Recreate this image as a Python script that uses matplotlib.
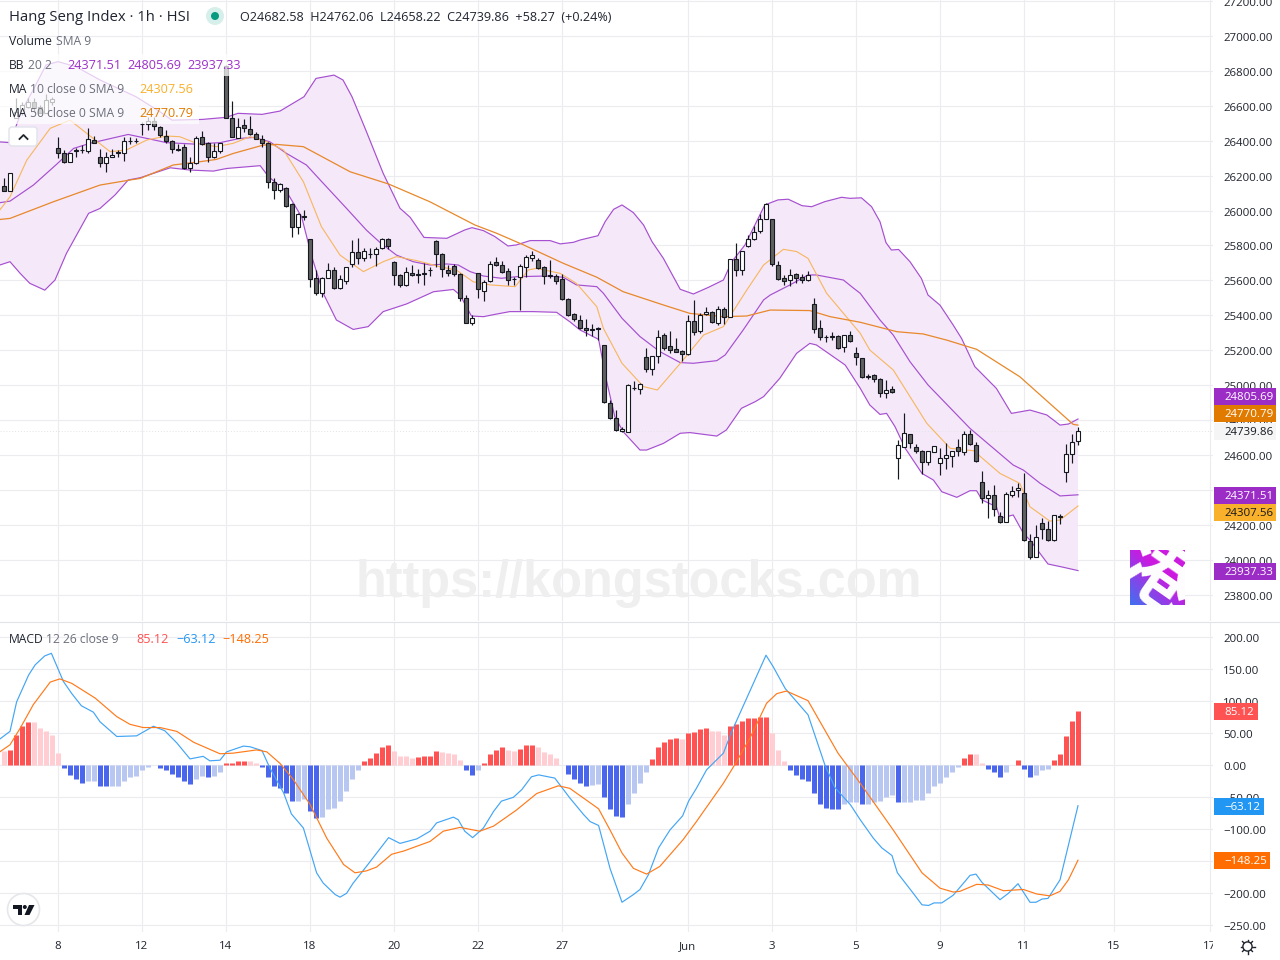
import numpy as np
import matplotlib
matplotlib.use('Agg')
import matplotlib.pyplot as plt
from matplotlib.patches import Rectangle, Circle, Polygon, FancyBboxPatch
from matplotlib.transforms import ScaledTranslation

plt.rcParams['font.family'] = ['Open Sans', 'DejaVu Sans']

# candles, one per hour, oldest first
opens = [26140, 26113, 26528, 26557, 26595, 26623, 26595, 26560, 26623, 26356,
         26327, 26280, 26343, 26347, 26343, 26402, 26308, 26274, 26304, 26335,
         26327, 26401, 26397, 26495, 26494, 26515, 26480, 26429, 26400, 26352,
         26366, 26241, 26270, 26419, 26385, 26308, 26343, 26830, 26528, 26413,
         26488, 26465, 26436, 26411, 26389, 26165, 26117, 26131, 26035, 25903,
         25970, 25835, 25611, 25525, 25611, 25657, 25554, 25598, 25691, 25760,
         25730, 25750, 25749, 25783, 25837, 25707, 25628, 25571, 25640, 25634,
         25634, 25658, 25828, 25749, 25658, 25681, 25635, 25497, 25358, 25640,
         25541, 25598, 25704, 25686, 25652, 25609, 25621, 25679, 25730, 25715,
         25675, 25628, 25623, 25606, 25492, 25406, 25371, 25325, 25320, 25327,
         25228, 24896, 24810, 24735, 24729, 24983, 24976, 25159, 25094, 25165,
         25285, 25222, 25205, 25197, 25176, 25365, 25312, 25409, 25421, 25354,
         25434, 25392, 25721, 25658, 25799, 25839, 25881, 25950, 25950, 25690,
         25612, 25600, 25635, 25618, 25600, 25463, 25325, 25278, 25276, 25280,
         25217, 25285, 25182, 25153, 25050, 25056, 25033, 24953, 24976, 24580,
         24647, 24718, 24643, 24624, 24557, 24619, 24552, 24582, 24592, 24643,
         24619, 24718, 24655, 24443, 24351, 24368, 24248, 24217, 24368, 24397,
         24380, 24105, 24013, 24208, 24174, 24110, 24246, 24500, 24603, 24682.58]
closes = [26113, 26213, 26566, 26604, 26623, 26585, 26560, 26633, 26639, 26327,
          26280, 26331, 26346, 26345, 26408, 26389, 26274, 26304, 26318, 26327,
          26400, 26398, 26400, 26497, 26515, 26484, 26431, 26400, 26350, 26345,
          26241, 26270, 26413, 26379, 26308, 26343, 26385, 26528, 26419, 26476,
          26471, 26436, 26411, 26385, 26165, 26115, 26154, 26028, 25903, 25978,
          25961, 25605, 25525, 25611, 25657, 25554, 25605, 25674, 25760, 25731,
          25770, 25752, 25781, 25837, 25796, 25628, 25571, 25649, 25628, 25631,
          25644, 25662, 25749, 25663, 25644, 25635, 25497, 25354, 25383, 25549,
          25593, 25692, 25686, 25650, 25600, 25606, 25681, 25732, 25744, 25669,
          25623, 25625, 25598, 25492, 25400, 25381, 25325, 25314, 25314, 25322,
          24901, 24813, 24743, 24747, 24999, 24986, 25005, 25094, 25165, 25278,
          25215, 25203, 25192, 25180, 25365, 25306, 25400, 25421, 25360, 25434,
          25392, 25721, 25658, 25767, 25839, 25879, 25950, 26036, 25692, 25606,
          25598, 25633, 25616, 25602, 25629, 25320, 25274, 25275, 25279, 25211,
          25285, 25251, 25159, 25048, 25047, 25033, 24953, 24970, 24959, 24655,
          24724, 24666, 24624, 24557, 24620, 24653, 24580, 24598, 24620, 24620,
          24718, 24661, 24563, 24351, 24368, 24292, 24217, 24376, 24395, 24408,
          24110, 24017, 24131, 24174, 24110, 24254, 24249, 24603, 24676, 24739.86]
highs = [26184, 26213, 26643, 26623, 26643, 26643, 26604, 26667, 26648, 26423,
         26346, 26331, 26356, 26375, 26471, 26427, 26352, 26337, 26350, 26347,
         26423, 26419, 26413, 26509, 26537, 26537, 26484, 26461, 26404, 26381,
         26381, 26308, 26427, 26455, 26394, 26385, 26389, 26834, 26627, 26528,
         26522, 26541, 26452, 26430, 26394, 26184, 26159, 26136, 26041, 25984,
         26003, 25839, 25659, 25621, 25697, 25678, 25630, 25678, 25831, 25840,
         25783, 25783, 25789, 25840, 25840, 25710, 25636, 25678, 25688, 25668,
         25697, 25679, 25831, 25755, 25688, 25694, 25640, 25516, 25402, 25644,
         25602, 25711, 25736, 25711, 25669, 25618, 25694, 25746, 25768, 25726,
         25682, 25717, 25637, 25637, 25497, 25415, 25402, 25377, 25350, 25335,
         25230, 24915, 24857, 24758, 25006, 25024, 25010, 25213, 25169, 25316,
         25301, 25310, 25268, 25201, 25402, 25488, 25411, 25450, 25425, 25453,
         25450, 25721, 25812, 25767, 25860, 25912, 25979, 26042, 25950, 25713,
         25631, 25663, 25640, 25637, 25654, 25497, 25373, 25287, 25302, 25285,
         25289, 25308, 25216, 25157, 25064, 25064, 25041, 25029, 24997, 24685,
         24838, 24720, 24661, 24628, 24624, 24653, 24638, 24666, 24624, 24689,
         24739, 24743, 24674, 24508, 24399, 24427, 24273, 24389, 24422, 24437,
         24498, 24147, 24198, 24236, 24221, 24254, 24260, 24661, 24720, 24762.06]
lows = [26113, 26113, 26528, 26547, 26585, 26566, 26557, 26557, 26604, 26299,
        26270, 26280, 26308, 26327, 26327, 26385, 26251, 26222, 26304, 26308,
        26285, 26381, 26385, 26432, 26461, 26461, 26423, 26389, 26331, 26343,
        26236, 26222, 26266, 26375, 26280, 26299, 26327, 26528, 26419, 26413,
        26452, 26432, 26408, 26366, 26127, 26064, 26108, 26022, 25850, 25865,
        25945, 25563, 25516, 25506, 25611, 25548, 25548, 25582, 25674, 25693,
        25712, 25726, 25684, 25779, 25777, 25573, 25560, 25567, 25624, 25586,
        25573, 25625, 25679, 25621, 25625, 25625, 25484, 25354, 25344, 25497,
        25484, 25593, 25683, 25644, 25574, 25574, 25430, 25621, 25713, 25663,
        25579, 25612, 25579, 25488, 25396, 25369, 25320, 25283, 25283, 25258,
        24896, 24806, 24739, 24731, 24729, 24972, 24949, 25075, 25058, 25129,
        25201, 25186, 25188, 25140, 25173, 25289, 25300, 25402, 25358, 25346,
        25350, 25388, 25625, 25631, 25793, 25832, 25874, 25950, 25684, 25602,
        25574, 25568, 25587, 25587, 25598, 25300, 25258, 25247, 25258, 25205,
        25192, 25247, 25115, 25039, 25033, 25020, 24930, 24926, 24953, 24464,
        24643, 24640, 24613, 24491, 24544, 24619, 24487, 24521, 24533, 24594,
        24598, 24655, 24559, 24326, 24240, 24250, 24212, 24214, 24361, 24361,
        24109, 24005, 24013, 24120, 24109, 24105, 24204, 24445, 24556, 24658.22]

# indicator lines, read at the bends (candle number, value)
bb_upper_x = [-1, 1, 3, 5, 7, 9, 12, 16, 22, 26, 28, 33, 37, 39, 43, 46, 50, 52, 55, 56.5, 58,
              60.3, 63.2, 66, 67.7, 70, 73.8, 76.8, 78, 79.9, 81.8, 84, 85.4, 87.7, 91, 92.7,
              94.9, 96, 99, 100.2, 101.6, 103, 104.9, 106.6, 108, 109.9, 112.7, 114.9, 117.4,
              119.9, 121.3, 123.5, 126.8, 129, 130.7, 133, 134.6, 136.8, 139.6, 141, 142.9,
              144.6, 146, 147, 147.9, 149.1, 151, 152.9, 154, 156, 158.2, 159.6, 161.8, 165.4,
              167.9, 171, 173.8, 176, 177.4, 179]
bb_upper = [26394, 26389, 26576, 26700, 26834, 26853, 26824, 26748, 26652, 26566, 26518, 26522,
            26534, 26557, 26551, 26570, 26652, 26757, 26776, 26748, 26652, 26461, 26213, 26013,
            25961, 25846, 25841, 25889, 25902, 25885, 25851, 25797, 25803, 25828, 25828, 25809,
            25818, 25831, 25856, 25937, 26007, 26032, 25988, 25917, 25822, 25726, 25549, 25522,
            25560, 25602, 25707, 25803, 26032, 26061, 26065, 26028, 26022, 26051, 26076, 26070,
            26073, 26022, 25936, 25816, 25774, 25777, 25707, 25611, 25516, 25458, 25344, 25267,
            25106, 24981, 24838, 24857, 24829, 24771, 24777, 24805.69]
bb_mid_x = [-0.7, 1, 4.9, 8.8, 11.6, 14.3, 20.7, 27.1, 31.6, 36, 39.3, 41.6, 44.3, 47.1, 50.4,
            52.7, 57.1, 60.4, 62.7, 65.4, 68.2, 71, 73.8, 75.7, 77.7, 79.9, 82.9, 85.4, 90.4,
            93.2, 95.4, 98.8, 99.9, 103, 106, 109.3, 112.7, 114.9, 118.8, 120.2, 123.2, 126.6,
            127.7, 131, 134, 135.4, 139.9, 141.6, 142.7, 146, 148.2, 151, 154, 161, 168.2,
            169.9, 172.7, 176, 179]
bb_mid = [26045, 26054, 26146, 26266, 26356, 26385, 26436, 26389, 26381, 26389, 26413, 26419,
          26394, 26327, 26261, 26175, 26012, 25888, 25816, 25745, 25707, 25688, 25694, 25688,
          25650, 25625, 25612, 25621, 25625, 25618, 25574, 25564, 25526, 25383, 25278, 25192,
          25129, 25125, 25140, 25173, 25316, 25488, 25516, 25574, 25631, 25631, 25602, 25555,
          25526, 25373, 25287, 25134, 25001, 24752, 24542, 24513, 24437, 24365, 24371.51]
bb_lower_x = [-0.7, 1, 2.7, 4.3, 6.8, 8.5, 10.4, 14.1, 16, 18.5, 20.7, 22.7, 27.7, 31, 34.9,
              37.1, 42.7, 44.1, 47.1, 49.6, 51.3, 53.2, 55.4, 58.2, 60.7, 63.2, 67.1, 71.6,
              74.9, 76, 77.9, 79.9, 82.1, 84.3, 88.2, 92.1, 94.3, 96, 99.1, 100.4, 101.8, 103.2,
              106, 107.1, 109.9, 112.7, 114.3, 118.8, 120.4, 122.9, 125.2, 126.6, 129.3, 132.1,
              134.3, 135.4, 138.2, 140.2, 142.7, 144.3, 146, 147.1, 148.5, 150.2, 153, 154.9,
              156.3, 158.8, 161, 162.1, 163, 165.4, 166, 168.2, 169.9, 171, 174, 176.6, 179]
bb_lower = [25688, 25707, 25640, 25583, 25544, 25602, 25754, 25984, 26012, 26089, 26175, 26188,
            26245, 26232, 26226, 26241, 26257, 26194, 26108, 25964, 25736, 25526, 25373, 25319,
            25335, 25421, 25465, 25535, 25548, 25516, 25396, 25392, 25407, 25421, 25421, 25417,
            25363, 25316, 25262, 25029, 24819, 24733, 24628, 24628, 24666, 24724, 24728, 24708,
            24743, 24867, 24905, 24934, 25039, 25182, 25239, 25230, 25163, 25115, 24982, 24886,
            24832, 24838, 24762, 24638, 24494, 24456, 24389, 24357, 24395, 24395, 24342, 24303,
            24236, 24256, 24151, 24112, 23975, 23956, 23937.33]
ma10_x = [-0.7, 1, 3.8, 7.7, 11, 13.8, 17.7, 20.4, 23.8, 27.1, 29.3, 32.1, 35.4, 38.2, 41, 43.8,
          46.6, 49.9, 52.9, 56, 59.9, 63.2, 65.4, 68.8, 72.7, 75.4, 78.2, 81, 85.2, 87.4, 88.8,
          92.7, 95.4, 98.8, 99.9, 103, 106.6, 108.9, 113.2, 116.6, 119.9, 123.8, 126.6, 129.9,
          132.1, 134, 137.1, 142.7, 144.3, 148.2, 153.8, 157.7, 161.6, 166, 169.3, 171, 174.3,
          176, 179]
ma10 = [26003, 26079, 26289, 26471, 26518, 26442, 26337, 26347, 26404, 26427, 26423, 26385,
        26366, 26385, 26423, 26394, 26346, 26165, 25908, 25745, 25650, 25707, 25736, 25713,
        25678, 25659, 25592, 25574, 25564, 25660, 25669, 25640, 25583, 25449, 25325, 25125,
        24991, 24972, 25144, 25287, 25335, 25545, 25688, 25778, 25765, 25726, 25526, 25297,
        25201, 25087, 24781, 24638, 24624, 24494, 24437, 24303, 24221, 24227, 24307.56]
ma50_x = [-0.7, 1, 8.2, 16, 21, 22.7, 28.2, 32.7, 35.4, 38.2, 43.2, 45.4, 49.9, 57.7, 64.1, 71,
          78.5, 82.1, 86.6, 93.2, 98.8, 103.2, 109.9, 114.3, 119.9, 123.8, 127.7, 134.3, 137.7,
          142.7, 148.8, 153.2, 157.1, 162.1, 169.3, 178.2, 179]
ma50 = [25949, 25955, 26050, 26146, 26175, 26184, 26261, 26280, 26293, 26327, 26375, 26379,
        26366, 26222, 26152, 26050, 25917, 25870, 25803, 25698, 25618, 25535, 25459, 25411,
        25392, 25396, 25430, 25427, 25392, 25360, 25306, 25293, 25258, 25205, 25048, 24775,
        24770.79]

# MACD pane
macd_hist = [22, 24, 48, 62, 68, 67, 59, 54, 48, 20,
             -4, -15, -21, -27, -25, -25, -32, -33, -33, -32,
             -25, -19, -16, -8, -3, 1, -4, -8, -13, -18,
             -25, -29, -21, -16, -18, -16, -11, 3, 3.5, 6,
             7, 6, 3, -3, -19, -32, -36, -44, -55, -55,
             -52, -71, -82, -80, -69, -66, -55, -40, -21, -8,
             6, 12, 20, 29, 32, 23, 14, 14, 12, 12.5, 14,
             15, 23, 21, 20, 18, 9, -8, -15, -7, 4,
             18, 24, 28, 24, 23, 26, 31, 32, 29, 21,
             17, 12, 1, -13, -21, -27, -32, -30, -29, -50,
             -68, -79, -80, -60, -43, -27, -10, 10, 29, 37,
             41.5, 42, 41.5, 51, 51.5, 56, 59, 53, 53, 48,
             62, 65, 70, 74, 74.5, 75, 76, 51, 24, 6,
             -7, -15, -21, -24, -44, -60, -66, -68, -69, -61, -57, -57,
             -60, -60, -57, -55, -50, -46, -58, -57, -57, -54,
             -54, -44, -32, -27, -19, -10, -3, 12, 18, 17,
             3, -5, -11, -18, -10, 1, 9, -5, -18, -15,
             -7, -5, 9, 18, 46, 70, 85.12]
macd_x = [-0.7, 1, 2.1, 4.1, 5.2, 6.8, 7.9, 9.9, 11.3, 12.9, 14.9, 16, 18.8, 22.1, 24.9, 26.8,
          28.8, 31, 33.2, 34.3, 36, 37.1, 39.9, 41, 43, 44.3, 46.6, 47.9, 49.9, 52.1, 53.2, 55.2,
          56, 57.1, 58.2, 60.4, 64.1, 66, 68.8, 71, 72.1, 74.9, 75.7, 76.8, 78.1, 79.9, 81.6,
          82.9, 84.9, 86.3, 87.9, 89.1, 91.8, 94.3, 96.6, 97.7, 99.1, 101, 103, 104.9, 106,
          107.4, 109.1, 111, 113.1, 114.1, 115.4, 117.1, 119.9, 121.3, 127, 128.2, 130.2, 134,
          136.8, 138.5, 141.1, 142.7, 144.9, 146.3, 148, 148.9, 151.3, 153, 154.1, 155, 156.3,
          158.2, 160.2, 161, 162, 163, 164, 166, 167.4, 169, 171, 172, 173, 174, 176, 179]
macd_line = [41, 53, 99, 141, 157, 171, 175, 131, 112, 93, 83, 68, 45, 46, 61, 54,
             35, 10, 14, 7, 8, 21, 30, 29, 23, -4, -43, -76, -98, -168, -184, -202,
             -206, -200, -184, -158, -113, -122, -115, -103, -90, -81, -85, -103, -113, -98, -72,
             -56, -50, -38, -18, -15, -20, -51, -77, -88, -94, -161, -214, -202, -194,
             -171, -129, -101, -79, -56, -36, -7, 19, 53, 172, 154, 120, 79,
             1, -35, -62, -85, -114, -129, -141, -168, -197, -218, -219, -215, -215,
             -203, -181, -172, -170, -183, -192, -210, -200, -185, -214, -214, -209, -208, -179,
             -63.12]
signal_x = [-0.7, 1, 2.7, 4.9, 7.7, 9.3, 11.3, 15.2, 18.8, 21, 23.2, 26, 28.8, 31.6, 33.8, 36,
            38.2, 42.1, 43.8, 46, 48.2, 51, 53.8, 56.6, 58.5, 60.4, 62.1, 64.6, 66.6, 71, 73.2,
            76, 79.3, 81.6, 85.4, 88.8, 92.4, 94.3, 99.1, 101, 103, 104.9, 107.1, 109.3, 113.2,
            115.4, 119.9, 121.8, 124.3, 127.1, 128.8, 130.4, 134, 139, 142.7, 148.2, 153, 156,
            158.2, 159.3, 162.1, 164, 166.6, 169.9, 172.1, 174.3, 176, 177.4, 179]
signal_line = [21, 32, 58, 95, 130, 135, 128, 105, 76, 64, 59, 59, 53, 36, 27, 18,
               19, 24, 21, 3, -22, -61, -114, -155, -168, -165, -159, -139, -134, -119, -103,
               -97, -103, -95, -70, -44, -32, -36, -68, -101, -137, -161, -170, -158, -116,
               -88, -28, 1, 42, 97, 112, 116, 101, 19, -28, -101, -168, -192,
               -198, -197, -186, -187, -196, -194, -201, -204, -197, -179, -148.25]

price_ticks = [27200, 27000, 26800, 26600, 26400, 26200, 26000, 25800, 25600, 25400, 25200, 25000,
               24800, 24600, 24400, 24200, 24000, 23800]
macd_ticks = [200, 150, 100, 50, 0, -50, -100, -150, -200, -250]
day_pos = [9, 23, 37, 51, 65, 79, 93, 114, 128, 142, 156, 170, 185, 201]
day_labels = ['8', '12', '14', '18', '20', '22', '27', 'Jun', '3', '5', '9', '11', '15', '17']

GRID = '#ececf0'
TEXT = '#1f2430'
MUTED = '#6b6f7b'
PURPLE = '#a64fd0'
FILL = '#f4e8f9'
GOLD = '#f8b65c'
DARK_ORANGE = '#e8882a'
TICK_SIZE = 8.25
LEGEND_SIZE = 8.7
VALUE_SIZE = 9.05

W, H = 1280, 960
fig = plt.figure(figsize=(W / 100, H / 100), dpi=100, facecolor='white')
nudge_down = ScaledTranslation(0, -1 / 100, fig.dpi_scale_trans)


def pane(top, bottom):
    return fig.add_axes([0, 1 - bottom / H, 1213 / W, (bottom - top) / H])


xlim = (-4 / 6, (1213 - 4) / 6)
ax = pane(0, 621)
ax.set_xlim(*xlim)
ax.set_ylim(27000 - (621 - 36) / 0.17455, 27000 + 36 / 0.17455)
ax2 = pane(622, 932)
ax2.set_xlim(*xlim)
ax2.set_ylim(-(932 - 765.3) / 0.64, (765.3 - 622) / 0.64)

for a, ticks in ((ax, price_ticks), (ax2, macd_ticks)):
    a.set_yticks(ticks)
    a.set_yticklabels(['{:.2f}'.format(t).replace('-', '\u2212') for t in ticks], fontsize=TICK_SIZE, color='#20242e')
    a.yaxis.tick_right()
    a.tick_params(axis='y', length=0, pad=7.5)
    for tl in a.get_yticklabels():
        tl.set_transform(tl.get_transform() + nudge_down)
    a.set_xticks(day_pos)
    a.tick_params(axis='x', length=0, labelbottom=False)
    a.grid(True, color=GRID, lw=0.8)
    a.set_axisbelow(True)
    a.patch.set_alpha(0)
    for s in a.spines.values():
        s.set_visible(False)

# watermark sits under everything
fig.text(639 / W, 1 - 584 / H, 'https://kongstocks.com', family='Liberation Sans', weight='bold', fontsize=36.4,
         color='#efefef', ha='center', va='center', zorder=0.5)

# bollinger band
ax.fill(bb_upper_x + bb_lower_x[::-1], bb_upper + bb_lower[::-1], color=FILL, lw=0, zorder=1)
ax.plot(bb_upper_x, bb_upper, color=PURPLE, lw=0.85, zorder=2)
ax.plot(bb_lower_x, bb_lower, color=PURPLE, lw=0.85, zorder=2)
ax.plot(bb_mid_x, bb_mid, color=PURPLE, lw=0.85, zorder=2)
ax.plot(ma10_x, ma10, color=GOLD, lw=0.8, zorder=2.1)
ax.plot(ma50_x, ma50, color=DARK_ORANGE, lw=0.9, zorder=2.2)
ax.axhline(closes[-1], color='#e4e4e8', lw=0.7, ls=(0, (1, 2)), zorder=1.5)

# candles
idx = np.arange(len(opens))
ax.vlines(idx, lows, highs, color='#15181f', lw=0.85, zorder=3)
body_low = [min(o, c) for o, c in zip(opens, closes)]
body_h = [max(abs(o - c), 3) for o, c in zip(opens, closes)]
body_col = ['white' if c >= o else '#606060' for o, c in zip(opens, closes)]
ax.bar(idx, body_h, bottom=body_low, width=0.68, color=body_col, edgecolor='#15181f', lw=0.8, zorder=4)

# MACD histogram, shade follows the direction of the bar
hist_col = []
prev = None
for v in macd_hist:
    rising = prev is not None and v > prev
    falling = prev is not None and v < prev
    if v >= 0:
        hist_col.append('#ff5252' if rising else '#ffcdd2')
    else:
        hist_col.append('#4a66ec' if falling else '#b8c6f2')
    prev = v
hist_bars = ax2.vlines(idx, 0, macd_hist, colors=hist_col, lw=3.6, zorder=2)
hist_bars.set_capstyle('butt')
ax2.plot(macd_x, macd_line, color='#42a5f5', lw=0.85, zorder=3)
ax2.plot(signal_x, signal_line, color='#ff7a1a', lw=0.85, zorder=3.1)

# time scale
ax3 = pane(932, 960)
ax3.set_xlim(*xlim)
ax3.set_ylim(0, 1)
ax3.axis('off')
for p, lab in zip(day_pos, day_labels):
    ax3.text(p, 0.49, lab, fontsize=TICK_SIZE, color='#20242e', ha='center', va='center', clip_on=True)

# everything else is placed in plain pixels
ov = fig.add_axes([0, 0, 1, 1])
ov.set_xlim(0, W)
ov.set_ylim(H, 0)
ov.axis('off')
ov.patch.set_alpha(0)


def label(x, y, s, color=TEXT, size=LEGEND_SIZE, **kw):
    return ov.text(x, y + 1.2, s, color=color, fontsize=size, va='center', ha='left', zorder=30, **kw)


# line separating the panes
ov.plot([0, W], [621.5, 621.5], color='#e2e3e8', lw=0.8, zorder=1)

# legend block washes out what is behind it
ov.add_patch(Rectangle((0, 54), 240, 22, fc='white', alpha=0.72, lw=0, zorder=20))
ov.add_patch(Rectangle((0, 76), 199, 48, fc='white', alpha=0.72, lw=0, zorder=20))

label(9, 16, 'Hang Seng Index \u00b7 1h \u00b7 HSI', size=10.7)
ov.add_patch(Circle((215, 16), 9, fc='#d7efeb', lw=0, zorder=25))
ov.add_patch(Circle((215, 16), 4, fc='#089981', lw=0, zorder=26))
label(240, 16, 'O24682.58  H24762.06  L24658.22  C24739.86  +58.27  (+0.24%)', size=VALUE_SIZE)
label(9, 40, 'Volume')
label(56, 40, 'SMA 9', color=MUTED)
label(9, 64, 'BB')
label(28, 64, '20 2', color=MUTED)
for x, s in ((67, '24371.51'), (127, '24805.69'), (187, '23937.33')):
    label(x, 64, s, color='#9c2fc8', size=VALUE_SIZE)
label(9, 88, 'MA')
label(30, 88, '10 close 0 SMA 9', color=MUTED)
label(139, 88, '24307.56', color='#f9b02a', size=VALUE_SIZE)
label(9, 112, 'MA')
label(30, 112, '50 close 0 SMA 9', color=MUTED)
label(139, 112, '24770.79', color='#e07b00', size=VALUE_SIZE)

ov.add_patch(FancyBboxPatch((11, 129), 24, 15, boxstyle='round,pad=2,rounding_size=3', fc='white', ec='#e0e3eb',
                            lw=1, zorder=25))
ov.plot([19.5, 23.5, 27.5], [139, 135, 139], color='#20242e', lw=1.3, zorder=26)

label(9, 638, 'MACD')
label(46, 638, '12 26 close 9', color=MUTED)
label(136, 638, '85.12', color='#ff5252', size=VALUE_SIZE)
label(176, 638, '\u221263.12', color='#2196f3', size=VALUE_SIZE)
label(222, 638, '\u2212148.25', color='#ff6d00', size=VALUE_SIZE)

# value tags on the right scale
tags = [(396, 1276, '24805.69', '#9c2cc6', 'white'), (413, 1276, '24770.79', '#e07b00', 'white'),
        (431, 1276, '24739.86', '#f5f5f6', '#15181f'), (495, 1276, '24371.51', '#9c2cc6', 'white'),
        (512, 1276, '24307.56', '#f9b02a', '#15181f'), (571, 1276, '23937.33', '#9c2cc6', 'white'),
        (711.5, 1258, '85.12', '#ff5252', 'white'), (806.5, 1264, '\u221263.12', '#2196f3', 'white'),
        (860.5, 1270, '\u2212148.25', '#ff6d00', 'white')]
for y, right, s, bg, fg in tags:
    ov.add_patch(Rectangle((1214, y - 8.5), right - 1214, 17, fc=bg, lw=0, zorder=28))
    label(1224, y, s, color=fg, size=TICK_SIZE)

# logo square
grad_x, grad_y = np.meshgrid(np.linspace(0, 1, 55), np.linspace(0, 1, 55))
mix = np.clip((grad_x + (1 - grad_y)) * 0.85, 0, 1)
grad = np.zeros((55, 55, 3))
grad[..., 0] = 0.25 + 0.55 * mix
grad[..., 1] = 0.44 - 0.34 * mix
grad[..., 2] = 0.94 - 0.06 * mix
ov.imshow(grad, extent=(1130, 1185, 605, 550), aspect='auto', zorder=15)
ov.set_xlim(0, W)
ov.set_ylim(H, 0)
clip = Rectangle((1130, 550), 55, 55, transform=ov.transData)
glyph = ov.text(1157, 577, '\u6e2f', family=['Noto Sans CJK SC', 'DejaVu Sans'], weight='black', fontsize=56,
                color='white', rotation=-35, ha='center', va='center', zorder=16, clip_on=True)
glyph.set_clip_path(clip)

# chart provider badge
ov.add_patch(Circle((23.5, 909.5), 16, fc='white', ec='#e6e7ea', lw=1.2, zorder=25))
ov.add_patch(Polygon([(13.3, 905), (22, 905), (22, 915), (17.5, 915), (17.5, 909), (13.3, 909)], fc='#131722', lw=0,
                     zorder=26))
ov.add_patch(Circle((24.8, 907), 2, fc='#131722', lw=0, zorder=26))
ov.add_patch(Polygon([(29, 905), (34.5, 905), (29.5, 915), (24.5, 915)], fc='#131722', lw=0, zorder=26))

# settings gear
ov.add_patch(Circle((1247.5, 946.5), 4.6, fc='white', ec='#20242e', lw=1, zorder=26))
for ang in np.arange(0, 360, 45):
    dx, dy = np.cos(np.radians(ang)), np.sin(np.radians(ang))
    ov.plot([1247.5 + 4.6 * dx, 1247.5 + 7 * dx], [946.5 + 4.6 * dy, 946.5 + 7 * dy], color='#20242e', lw=1, zorder=25)

fig.savefig('out.png', dpi=100)
